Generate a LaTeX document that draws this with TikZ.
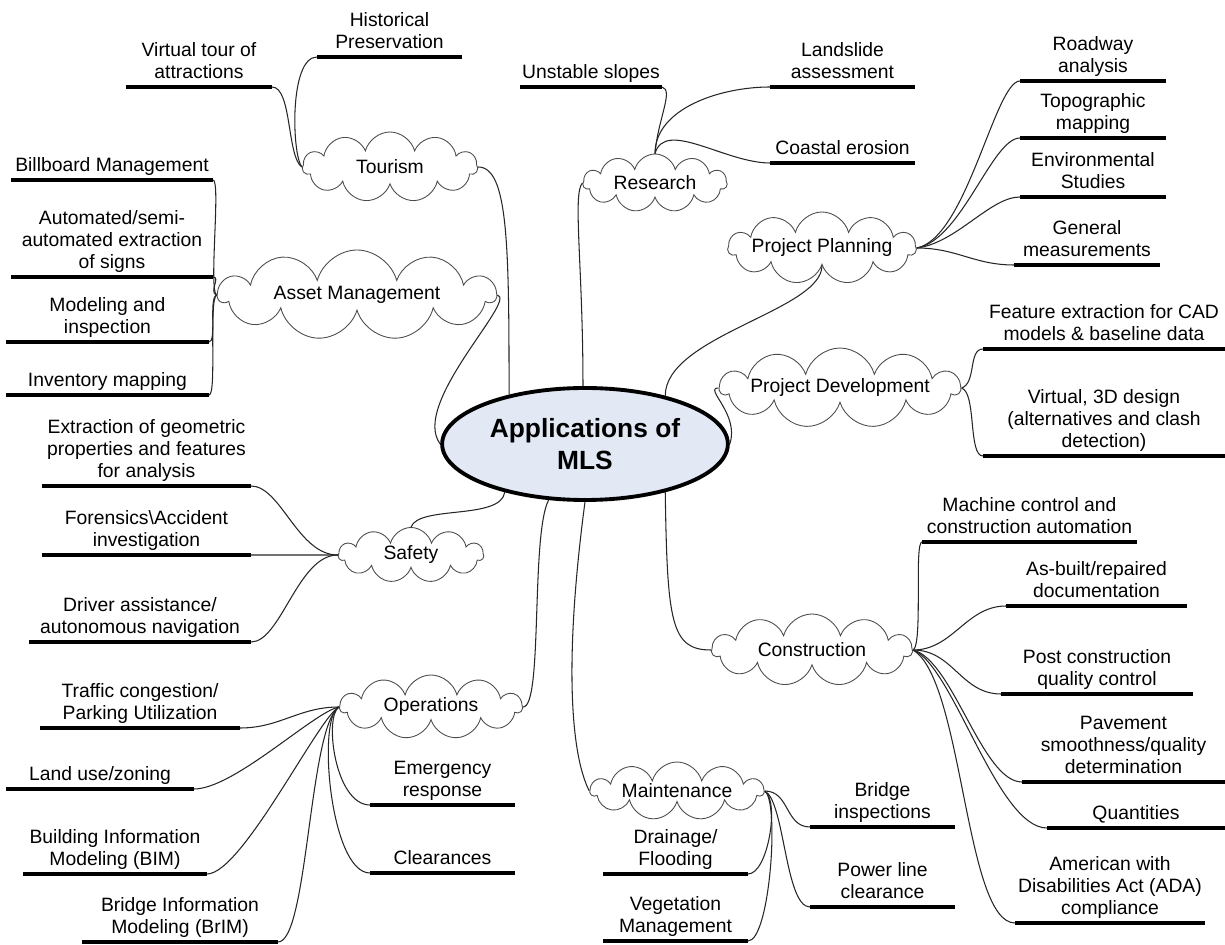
\documentclass[tikz,border=0pt]{standalone}
\usepackage{fontspec}
\setmainfont{Liberation Sans}
\usetikzlibrary{shapes.geometric, shapes.symbols}
\definecolor{hubfill}{RGB}{226,233,245}

\begin{document}
\begin{tikzpicture}[x=0.02cm, y=-0.02cm,
    hub/.style={ellipse, draw, line width=2.2pt, fill=hubfill, align=center,
        minimum width=234*0.02cm, minimum height=112*0.02cm,
        font=\fontsize{15}{18}\selectfont\bfseries},
    topic/.style 2 args={cloud, cloud puffs=11, cloud ignores aspect, draw=black!70,
        line width=0.5pt, inner sep=0pt, minimum width=#1*0.02cm, minimum height=#2*0.02cm,
        font=\fontsize{11}{12.6}\selectfont,
        execute at begin node={\hbox to 0pt\bgroup\hss}, execute at end node={\hss\egroup}},
    leaf/.style={anchor=south, align=center, inner xsep=0pt, inner ysep=1pt, outer sep=0pt,
        minimum width=#1*0.02cm, font=\fontsize{11}{12.6}\selectfont,
        execute at end node=\strut},
    bar/.style={line width=2.8pt},
    link/.style={draw=black!85, line width=0.6pt}]

    \useasboundingbox (0,0) rectangle (1225,945);

    % centre and topics
    \node[hub] (mls) at (585,444) {Applications of\\MLS};
    \node[topic={175}{70}] (tourism) at (390,167) {Tourism};
    \node[topic={144}{58}] (research) at (655,183) {Research};
    \node[topic={188}{72}] (planning) at (822,248) {Project Planning};
    \node[topic={240}{80}] (development) at (840,388) {Project Development};
    \node[topic={277}{90}] (asset) at (357,295) {Asset Management};
    \node[topic={145}{55}] (safety) at (411,555) {Safety};
    \node[topic={182}{64}] (operations) at (431,707) {Operations};
    \node[topic={173}{58}] (maintenance) at (677,791) {Maintenance};
    \node[topic={200}{72}] (construction) at (812,650) {Construction};

    % Tourism
    \node[leaf=146] (vtour) at (199,87) {Virtual tour of\\attractions};
    \node[leaf=145] (hist) at (389.5,57) {Historical\\Preservation};
    % Research
    \node[leaf=142] (unstable) at (591,87) {Unstable slopes};
    \node[leaf=145] (landslide) at (842.5,87) {Landslide\\assessment};
    \node[leaf=145] (coastal) at (842.5,163) {Coastal erosion};
    % Project Planning
    \node[leaf=146] (roadway) at (1093,81) {Roadway\\analysis};
    \node[leaf=146] (topo) at (1093,138) {Topographic\\mapping};
    \node[leaf=146] (environ) at (1093,197) {Environmental\\Studies};
    \node[leaf=146] (general) at (1087,265) {General\\measurements};
    % Project Development
    \node[leaf=242] (feature) at (1104,349) {Feature extraction for CAD\\models \& baseline data};
    \node[leaf=242] (design) at (1104,456) {Virtual, 3D design\\(alternatives and clash\\detection)};
    % Construction
    \node[leaf=215] (machine) at (1029.5,542) {Machine control and\\construction automation};
    \node[leaf=181] (asbuilt) at (1096.5,606) {As-built/repaired\\documentation};
    \node[leaf=192] (postqc) at (1097,694) {Post construction\\quality control};
    \node[leaf=203] (pavement) at (1123.5,782) {Pavement\\smoothness/quality\\determination};
    \node[leaf=178] (quantities) at (1136,828) {Quantities};
    \node[leaf=190] (ada) at (1110,923) {American with\\Disabilities Act (ADA)\\compliance};
    % Maintenance
    \node[leaf=145] (bridge) at (882.5,827) {Bridge\\inspections};
    \node[leaf=145] (powerline) at (882.5,907) {Power line\\clearance};
    \node[leaf=145] (drainage) at (675.5,874) {Drainage/\\Flooding};
    \node[leaf=145] (vegetation) at (675.5,941) {Vegetation\\Management};
    % Operations
    \node[leaf=200] (traffic) at (140,728) {Traffic congestion/\\Parking Utilization};
    \node[leaf=188] (landuse) at (100,789) {Land use/zoning};
    \node[leaf=184] (bim) at (115,874) {Building Information\\Modeling (BIM)};
    \node[leaf=196] (brim) at (180,942) {Bridge Information\\Modeling (BrIM)};
    \node[leaf=145] (emergency) at (442.5,805) {Emergency\\response};
    \node[leaf=145] (clearances) at (442.5,873) {Clearances};
    % Safety
    \node[leaf=209] (extraction) at (146.5,486) {Extraction of geometric\\properties and features\\for analysis};
    \node[leaf=209] (forensics) at (146.5,555) {Forensics\textbackslash Accident\\investigation};
    \node[leaf=222] (driver) at (140,642) {Driver assistance/\\autonomous navigation};
    % Asset Management
    \node[leaf=202] (billboard) at (112,180) {Billboard Management};
    \node[leaf=202] (signs) at (112,277) {Automated/semi-\\automated extraction\\of signs};
    \node[leaf=203] (modeling) at (107.5,342) {Modeling and\\inspection};
    \node[leaf=203] (inventory) at (107.5,395) {Inventory mapping};

    % bars under the leaves
    \foreach \leafname in {vtour,hist,unstable,landslide,coastal,roadway,topo,environ,general,
        feature,design,machine,asbuilt,postqc,pavement,quantities,ada,bridge,powerline,
        drainage,vegetation,traffic,landuse,bim,brim,emergency,clearances,extraction,
        forensics,driver,billboard,signs,modeling,inventory}
        \draw[bar] (\leafname.south west) -- (\leafname.south east);

    % centre to topics
    \draw[link] (tourism.east) .. controls +(30,0) and +(0,-150) .. (mls.147);
    \draw[link] (research.west) .. controls +(-10,10) and +(0,-120) .. (mls.92);
    \draw[link] (planning.south) .. controls +(0,45) and +(0,-60) .. (mls.31);
    \draw[link] (development.west) .. controls +(-15,0) and +(10,-30) .. (mls.east);
    \draw[link] (asset.east) .. controls +(20,5) and +(-30,-40) .. (mls.west);
    \draw[link] (mls.211) .. controls +(-4,28) and +(8,-22) .. (safety.north);
    \draw[link] (mls.237) .. controls +(-18,35) and +(20,0) .. (operations.east);
    \draw[link] (mls.270) .. controls +(-20,150) and +(-20,-40) .. (maintenance.west);
    \draw[link] (mls.329) .. controls +(2,130) and +(-40,0) .. (construction.west);

    % topics to leaves
    \draw[link] (tourism.west) .. controls +(-15,-10) and +(20,0) .. (vtour.south east);
    \draw[link] (tourism.west) .. controls +(-10,-12) and +(-28,0) .. (hist.south west);

    \draw[link] (research.north) .. controls +(3,-35) and +(12,3) .. (unstable.south east);
    \draw[link] (research.north) .. controls +(0,-45) and +(-50,0) .. (landslide.south west);
    \draw[link] (research.north) .. controls +(10,-35) and +(-45,0) .. (coastal.south west);

    \draw[link] (planning.east) .. controls +(50,-10) and +(-25,0) .. (roadway.south west);
    \draw[link] (planning.east) .. controls +(45,-8) and +(-28,0) .. (topo.south west);
    \draw[link] (planning.east) .. controls +(40,-5) and +(-30,0) .. (environ.south west);
    \draw[link] (planning.east) .. controls +(40,0) and +(-40,0) .. (general.south west);

    \draw[link] (development.east) .. controls +(15,-5) and +(-15,0) .. (feature.south west);
    \draw[link] (development.east) .. controls +(15,5) and +(-15,0) .. (design.south west);

    \draw[link] (construction.east) .. controls +(10,-5) and +(-8,0) .. (machine.south west);
    \draw[link] (construction.east) .. controls +(40,0) and +(-40,0) .. (asbuilt.south west);
    \draw[link] (construction.east) .. controls +(40,0) and +(-40,0) .. (postqc.south west);
    \draw[link] (construction.east) .. controls +(40,10) and +(-40,0) .. (pavement.south west);
    \draw[link] (construction.east) .. controls +(40,15) and +(-50,0) .. (quantities.south west);
    \draw[link] (construction.east) .. controls +(50,30) and +(-50,0) .. (ada.south west);

    \draw[link] (maintenance.east) .. controls +(25,0) and +(-25,0) .. (bridge.south west);
    \draw[link] (maintenance.east) .. controls +(20,10) and +(-25,0) .. (powerline.south west);
    \draw[link] (maintenance.east) .. controls +(15,10) and +(20,0) .. (drainage.south east);
    \draw[link] (maintenance.east) .. controls +(15,10) and +(22,0) .. (vegetation.south east);

    \draw[link] (operations.west) .. controls +(-40,0) and +(40,0) .. (traffic.south east);
    \draw[link] (operations.west) .. controls +(-25,5) and +(40,0) .. (landuse.south east);
    \draw[link] (operations.west) .. controls +(-20,10) and +(35,0) .. (bim.south east);
    \draw[link] (operations.west) .. controls +(-30,20) and +(30,0) .. (brim.south east);
    \draw[link] (operations.west) .. controls +(-15,10) and +(-35,0) .. (emergency.south west);
    \draw[link] (operations.west) .. controls +(-22,10) and +(-40,0) .. (clearances.south west);

    \draw[link] (safety.west) .. controls +(-40,0) and +(30,0) .. (extraction.south east);
    \draw[link] (safety.west) .. controls +(-30,0) and +(30,0) .. (forensics.south east);
    \draw[link] (safety.west) .. controls +(-40,0) and +(30,0) .. (driver.south east);

    \draw[link] (asset.west) .. controls +(-8,-5) and +(8,0) .. (billboard.south east);
    \draw[link] (asset.west) .. controls +(-8,-3) and +(8,0) .. (signs.south east);
    \draw[link] (asset.west) .. controls +(-8,3) and +(8,0) .. (modeling.south east);
    \draw[link] (asset.west) .. controls +(-8,5) and +(8,0) .. (inventory.south east);
\end{tikzpicture}
\end{document}
